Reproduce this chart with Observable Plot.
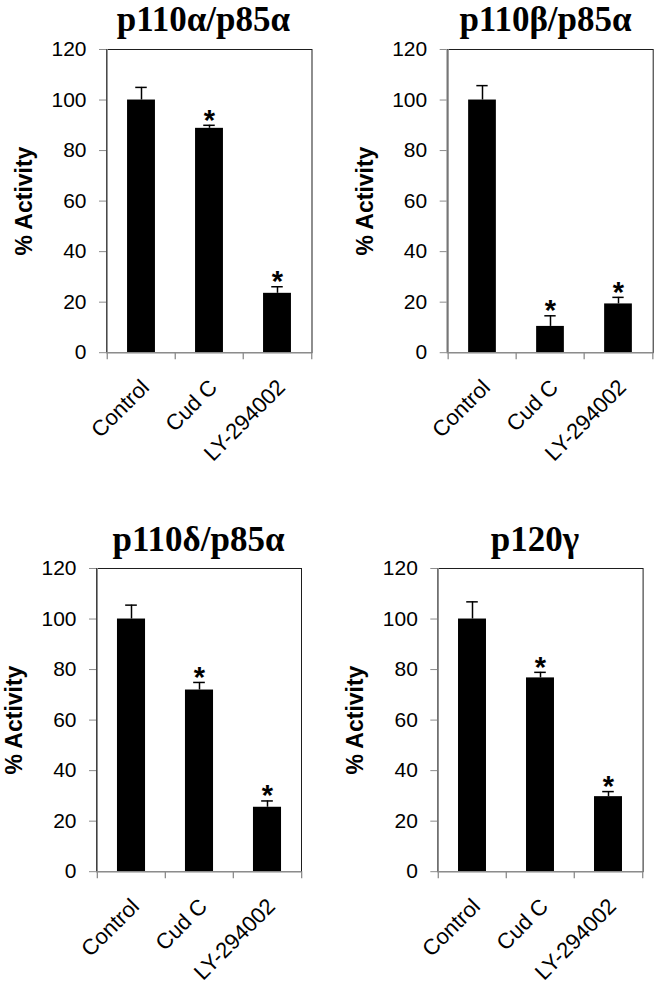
<!DOCTYPE html>
<html>
<head>
<meta charset="utf-8">
<script src="https://cdn.jsdelivr.net/npm/d3@7"></script>
<script src="https://cdn.jsdelivr.net/npm/@observablehq/plot@0.6"></script>
<style>
  html, body { margin: 0; padding: 0; background: #fff; }
  #chart { position: relative; width: 656px; height: 996px; overflow: hidden; background: #fff; }
  .panel { position: absolute; }
  .title { position: absolute; width: 328px; text-align: center; font-family: "Liberation Serif", serif; font-weight: bold; font-size: 35px; line-height: 35px; color: #000; white-space: nowrap; }
</style>
</head>
<body>
<div id="chart"></div>
<script>
// ---- data ----
const categories = ["Control", "Cud C", "LY-294002"];
const panelTitles = ["p110α/p85α", "p110β/p85α", "p110δ/p85α", "p120γ"];
const yLabel = "% Activity";
const yTicks = [0, 20, 40, 60, 80, 100, 120];

const alphaMeans = [100, 88.8, 23.5];
const alphaErrors = [5.0, 1.2, 2.6];
const alphaSignificant = [false, true, true];

const betaMeans = [100, 10.4, 19.3];
const betaErrors = [5.7, 4.2, 2.6];
const betaSignificant = [false, true, true];

const deltaMeans = [100, 71.9, 25.5];
const deltaErrors = [5.5, 3.0, 2.5];
const deltaSignificant = [false, true, true];

const gammaMeans = [100, 76.7, 29.7];
const gammaErrors = [6.8, 2.2, 2.0];
const gammaSignificant = [false, true, true];

// ---- layout (pixels) ----
const layout = [
  {left: 0,   top: 37,    marginLeft: 106,   marginRight: 16.5, marginBottom: 110, titleCenter: 203.4, titleTop: 1.5},
  {left: 328, top: 37,    marginLeft: 118.7, marginRight: 3.3,  marginBottom: 110, titleCenter: 545.5, titleTop: 1.5},
  {left: 0,   top: 556.3, marginLeft: 96,    marginRight: 27,   marginBottom: 112, titleCenter: 198.5, titleTop: 522},
  {left: 328, top: 556.3, marginLeft: 109.3, marginRight: 13.4, marginBottom: 112, titleCenter: 535,   titleTop: 522}
];
const panelWidth = 328;
const marginTop = 12;
const frameHeight = 303.2;
const gray = "#8c8c8c";
const sans = "'Liberation Sans', Arial, sans-serif";

const series = [
  [alphaMeans, alphaErrors, alphaSignificant],
  [betaMeans, betaErrors, betaSignificant],
  [deltaMeans, deltaErrors, deltaSignificant],
  [gammaMeans, gammaErrors, gammaSignificant]
];

function makePanel(means, errors, sig, L) {
  const data = categories.map((c, i) => ({cat: c, mean: means[i], err: errors[i], sig: sig[i]}));
  const width = panelWidth;
  const height = marginTop + frameHeight + L.marginBottom;
  const frameW = width - L.marginLeft - L.marginRight;
  const half = frameW / categories.length / 2;
  const barInset = half - 14.2;
  const capInset = half - 6;
  return Plot.plot({
    width, height,
    marginLeft: L.marginLeft, marginRight: L.marginRight,
    marginTop, marginBottom: L.marginBottom,
    style: {fontFamily: sans, fontSize: "20px", background: "transparent", color: "#000", overflow: "visible"},
    x: {domain: categories, padding: 0, axis: null},
    y: {domain: [0, 120], axis: null},
    marks: [
      Plot.frame({stroke: "#1e1e1e"}),
      Plot.barY(data, {x: "cat", y: "mean", fill: "#000", insetLeft: barInset, insetRight: barInset}),
      Plot.ruleX(data, {x: "cat", y1: "mean", y2: d => d.mean + d.err, stroke: "#000", strokeWidth: 1.5}),
      Plot.tickY(data, {x: "cat", y: d => d.mean + d.err, insetLeft: capInset, insetRight: capInset, stroke: "#000", strokeWidth: 1.5}),
      Plot.text(data.filter(d => d.sig), {x: "cat", y: d => d.mean + d.err, text: () => "*", fontSize: 29, fontWeight: "bold", lineAnchor: "middle", dy: -5, fill: "#000"}),
      Plot.ruleY([0], {stroke: gray, strokeWidth: 1.3}),
      Plot.ruleX([categories[0]], {x: d => d, dx: -half, stroke: gray, strokeWidth: 1.3}),
      Plot.ruleX(categories, {x: d => d, dx: -half, insetTop: frameHeight, insetBottom: -7, stroke: gray, strokeWidth: 1.3}),
      Plot.ruleX([categories[categories.length - 1]], {x: d => d, dx: half, insetTop: frameHeight, insetBottom: -7, stroke: gray, strokeWidth: 1.3}),
      Plot.axisY({ticks: yTicks, tickSize: 7, tickPadding: 13, stroke: gray, fill: "#000", label: null, fontSize: 21}),
      Plot.text(categories, {x: d => d, frameAnchor: "bottom", rotate: -45, textAnchor: "end", lineAnchor: "middle", dx: 4, dy: 31, fontSize: 22, fill: "#000"}),
      Plot.text([yLabel], {frameAnchor: "left", rotate: -90, textAnchor: "middle", dx: -82, fontWeight: "bold", fontSize: 23, fill: "#000"})
    ]
  });
}

const chart = document.getElementById("chart");
series.forEach(([m, e, s], i) => {
  const L = layout[i];
  const wrap = document.createElement("div");
  wrap.className = "panel";
  wrap.style.left = L.left + "px";
  wrap.style.top = L.top + "px";
  wrap.appendChild(makePanel(m, e, s, L));
  chart.appendChild(wrap);
  const t = document.createElement("div");
  t.className = "title";
  t.textContent = panelTitles[i];
  t.style.left = (L.titleCenter - 164) + "px";
  t.style.top = L.titleTop + "px";
  chart.appendChild(t);
});
</script>
</body>
</html>
